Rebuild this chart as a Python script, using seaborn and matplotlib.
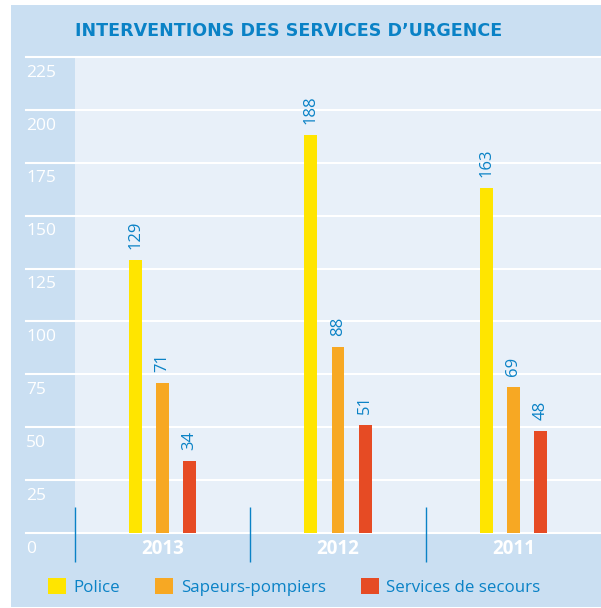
import matplotlib
matplotlib.use("Agg")
import matplotlib.pyplot as plt
import matplotlib.patches as mpatches
from matplotlib.lines import Line2D
import numpy as np
import pandas as pd
import seaborn as sns

# data
annees = ["2013", "2012", "2011"]
services = ["Police", "Sapeurs-pompiers", "Services de secours"]
police = [129, 188, 163]
sapeurs = [71, 88, 69]
secours = [34, 51, 48]
yticks = [0, 25, 50, 75, 100, 125, 150, 175, 200, 225]

couleurs = ["#FFE500", "#F7A823", "#E64B24"]
BLEU = "#0A82C6"
PANEL = "#CADFF2"
FOND = "#E8F0F9"

df = pd.DataFrame({
    "annee": annees * 3,
    "service": [services[0]] * 3 + [services[1]] * 3 + [services[2]] * 3,
    "valeur": police + sapeurs + secours,
})

plt.rcParams["font.family"] = ["Open Sans", "DejaVu Sans"]

W, H = 601, 608
fig = plt.figure(figsize=(W / 100, H / 100), dpi=100)
fig.patch.set_facecolor("white")
fig.add_artist(mpatches.Rectangle((11 / W, 1 / H), 1 - 11 / W, 602 / H,
                                  transform=fig.transFigure, facecolor=PANEL,
                                  edgecolor="none", zorder=0))

ax = fig.add_axes([75 / W, (H - 533) / H, (W - 75) / W, (533 - 57) / H])
ax.set_facecolor(FOND)

sns.barplot(data=df, x="annee", y="valeur", hue="service", order=annees,
            hue_order=services, palette=couleurs, saturation=1, width=0.463,
            gap=0.52, linewidth=0, errorbar=None, legend=False, ax=ax, zorder=3)

ax.set_ylim(0, 225)
ax.set_xlim(-0.5, len(annees) - 0.5)
for s in ax.spines.values():
    s.set_visible(False)
ax.set_xlabel("")
ax.set_ylabel("")
ax.set_yticks([])
ax.tick_params(axis="x", length=0, pad=4, labelcolor="white", labelsize=13.5)
for lab in ax.get_xticklabels():
    lab.set_fontweight("bold")

# gridlines extending into the left strip, with labels under each line
gx0 = -49 / (W - 75)
ytr = ax.get_yaxis_transform()
for v in yticks:
    ax.add_line(Line2D([gx0, 1], [v, v], transform=ytr, color="white",
                       lw=1.5, clip_on=False, zorder=1))
    ax.annotate(str(v), xy=(gx0, v), xycoords=ytr, xytext=(0, -5.5),
                textcoords="offset points", ha="left", va="top",
                color="white", fontsize=12.5, annotation_clip=False)

# group separators
for i in range(len(annees)):
    ax.vlines(i - 0.5, -13.7, 12.3, color=BLEU, lw=1, clip_on=False, zorder=2)

for cont in ax.containers:
    ax.bar_label(cont, rotation=90, padding=8, color=BLEU, fontsize=12)

fig.text(75 / W, 1 - 31 / H, "INTERVENTIONS DES SERVICES D\u2019URGENCE",
         ha="left", va="center", color=BLEU, fontsize=12.6, fontweight="bold",
         family="DejaVu Sans")

handles = [mpatches.Patch(facecolor=c, edgecolor="none") for c in couleurs]
fig.legend(handles, services, loc="center left", bbox_to_anchor=(48 / W, 1 - 587 / H),
           ncol=3, frameon=False, fontsize=12.2, labelcolor=BLEU,
           handlelength=1.07, handleheight=1.07, handletextpad=0.45,
           columnspacing=2.05, borderpad=0, borderaxespad=0)

fig.savefig("out.png", dpi=100, facecolor=fig.get_facecolor())
